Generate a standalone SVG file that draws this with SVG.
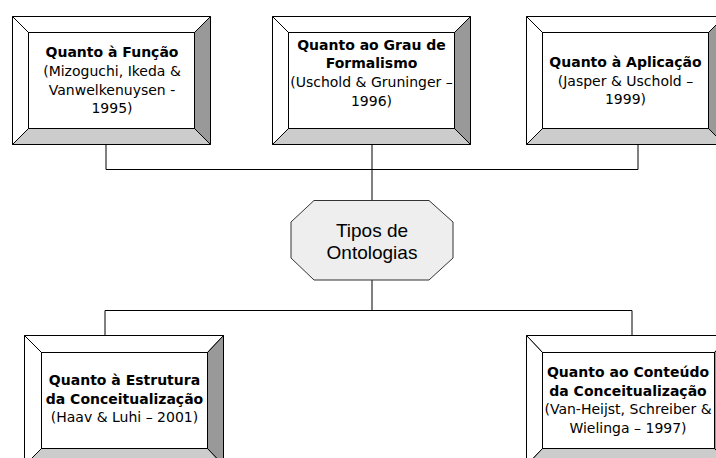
<svg xmlns="http://www.w3.org/2000/svg" width="716" height="458" viewBox="0 0 716 458">
<style>
.bev{stroke:#000;stroke-width:1;stroke-linejoin:miter}
.lt{fill:#ffffff}
.rt{fill:#999999}
.bt{fill:#cccccc}
.face{fill:#ffffff;stroke:#000;stroke-width:1}
.edge{fill:none;stroke:#000;stroke-width:1}
.t{font-family:"DejaVu Sans",Verdana,sans-serif;font-size:14px;fill:#000;text-anchor:middle}
.b{font-weight:bold}
.c{fill:none;stroke:#000;stroke-width:1}
.oct{fill:#eeeeee;stroke:#333;stroke-width:1}
.ot{font-family:"Liberation Sans",Arial,sans-serif;font-size:19px;fill:#000;text-anchor:middle}
</style>
<g id="connectors">
<path class="c" d="M106 144.5V169.5M372 144.5V200M638 144.5V169.5M106 169.5H638"/>
<path class="c" d="M372 280V310.5M105 310.5H632M105 310.5V335M632 310.5V335"/>
</g>
<g id="box-funcao">
<polygon class="bev lt" points="12.5,16.5 210.5,16.5 194.5,32.5 28.5,32.5"/>
<polygon class="bev lt" points="12.5,16.5 28.5,32.5 28.5,128.5 12.5,144.5"/>
<polygon class="bev rt" points="210.5,16.5 210.5,144.5 194.5,128.5 194.5,32.5"/>
<polygon class="bev bt" points="12.5,144.5 28.5,128.5 194.5,128.5 210.5,144.5"/>
<rect class="face" x="28.5" y="32.5" width="166" height="96"/>
<text class="t b" x="112" y="57">Quanto à Função</text>
<text class="t" x="112" y="76">(Mizoguchi, Ikeda &amp;</text>
<text class="t" x="112" y="94.5">Vanwelkenuysen -</text>
<text class="t" x="112" y="113">1995)</text>
</g>
<g id="box-formalismo">
<polygon class="bev lt" points="272.5,16.5 470.5,16.5 454.5,32.5 288.5,32.5"/>
<polygon class="bev lt" points="272.5,16.5 288.5,32.5 288.5,128.5 272.5,144.5"/>
<polygon class="bev rt" points="470.5,16.5 470.5,144.5 454.5,128.5 454.5,32.5"/>
<polygon class="bev bt" points="272.5,144.5 288.5,128.5 454.5,128.5 470.5,144.5"/>
<rect class="face" x="288.5" y="32.5" width="166" height="96"/>
<text class="t b" x="371.5" y="49.5">Quanto ao Grau de</text>
<text class="t b" x="371.5" y="68">Formalismo</text>
<text class="t" x="371.5" y="87">(Uschold &amp; Gruninger –</text>
<text class="t" x="371.5" y="105.5">1996)</text>
</g>
<g id="box-aplicacao">
<polygon class="bev lt" points="526.5,16.5 724.5,16.5 708.5,32.5 542.5,32.5"/>
<polygon class="bev lt" points="526.5,16.5 542.5,32.5 542.5,128.5 526.5,144.5"/>
<polygon class="bev rt" points="724.5,16.5 724.5,144.5 708.5,128.5 708.5,32.5"/>
<polygon class="bev bt" points="526.5,144.5 542.5,128.5 708.5,128.5 724.5,144.5"/>
<rect class="face" x="542.5" y="32.5" width="166" height="96"/>
<text class="t b" x="625.5" y="67">Quanto à Aplicação</text>
<text class="t" x="625.5" y="85.5">(Jasper &amp; Uschold –</text>
<text class="t" x="625.5" y="104">1999)</text>
</g>
<g id="center">
<polygon class="oct" points="314,200.5 429,200.5 453,222 453,258 429,280 314,280 291,258 291,222"/>
<text class="ot" x="372" y="237">Tipos de</text>
<text class="ot" x="372" y="258.5">Ontologias</text>
</g>
<g id="box-estrutura">
<polygon class="bev lt" points="24.5,335.5 223.5,335.5 207.5,352.5 41.5,352.5"/>
<polygon class="bev lt" points="24.5,335.5 41.5,352.5 41.5,448.5 24.5,465.5"/>
<polygon class="bev rt" points="223.5,335.5 223.5,465.5 207.5,448.5 207.5,352.5"/>
<polygon class="bev bt" points="24.5,465.5 41.5,448.5 207.5,448.5 223.5,465.5"/>
<rect class="face" x="41.5" y="352.5" width="166" height="96"/>
<text class="t b" x="124.5" y="385">Quanto à Estrutura</text>
<text class="t b" x="124.5" y="403.5">da Conceitualização</text>
<text class="t" x="124.5" y="422">(Haav &amp; Luhi – 2001)</text>
</g>
<g id="box-conteudo">
<polygon class="bev lt" points="526.5,335.5 730.5,335.5 714.5,352.5 542.5,352.5"/>
<polygon class="bev lt" points="526.5,335.5 542.5,352.5 542.5,448.5 526.5,465.5"/>
<polygon class="bev rt" points="730.5,335.5 730.5,465.5 714.5,448.5 714.5,352.5"/>
<polygon class="bev bt" points="526.5,465.5 542.5,448.5 714.5,448.5 730.5,465.5"/>
<rect class="face" x="542.5" y="352.5" width="172" height="96"/>
<text class="t b" x="628" y="377">Quanto ao Conteúdo</text>
<text class="t b" x="628" y="395.5">da Conceitualização</text>
<text class="t" x="628" y="414">(Van-Heijst, Schreiber &amp;</text>
<text class="t" x="628" y="432.5">Wielinga – 1997)</text>
</g>
</svg>
